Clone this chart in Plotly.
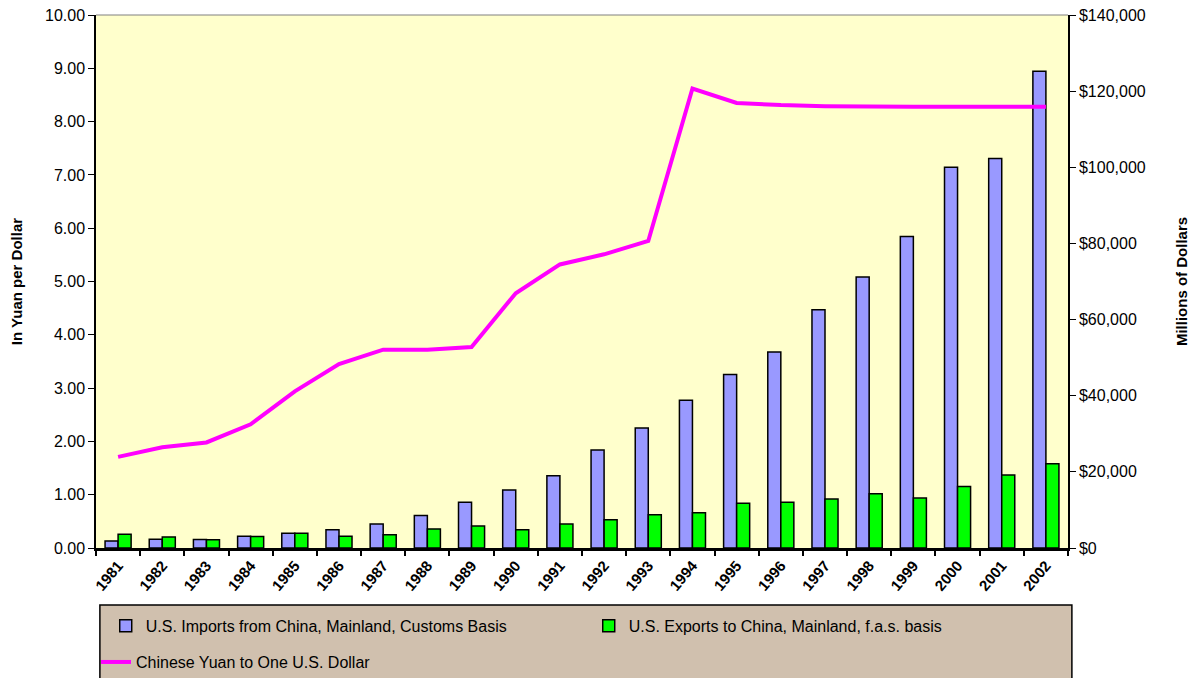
import plotly.graph_objects as go

# Data
years = [str(y) for y in range(1981, 2003)]
imports = [1865, 2284, 2244, 3065, 3862, 4771, 6294, 8511, 11990, 15237, 18969,
           25728, 31540, 38787, 45543, 51513, 62558, 71169, 81788, 100018, 102278, 125193]
exports = [3603, 2912, 2173, 3004, 3856, 3106, 3497, 5021, 5755, 4806, 6278,
           7418, 8763, 9282, 11754, 11993, 12862, 14241, 13111, 16185, 19182, 22128]
yuan = [1.71, 1.89, 1.98, 2.32, 2.94, 3.45, 3.72, 3.72, 3.77, 4.78, 5.32,
        5.51, 5.76, 8.62, 8.35, 8.31, 8.29, 8.28, 8.28, 8.28, 8.28, 8.28]

FONT = "Liberation Sans, Arial, sans-serif"

fig = go.Figure()

fig.add_trace(go.Bar(x=years, y=imports, name="U.S. Imports from China, Mainland, Customs Basis",
                     marker=dict(color="#9999FF", line=dict(color="black", width=1.5)),
                     yaxis="y", legend="legend"))
fig.add_trace(go.Bar(x=years, y=exports, name="U.S. Exports to China, Mainland, f.a.s. basis",
                     marker=dict(color="#00FF00", line=dict(color="black", width=1.5)),
                     yaxis="y", legend="legend"))
fig.add_trace(go.Scatter(x=years, y=yuan, name="Chinese Yuan to One U.S. Dollar",
                         mode="lines", line=dict(color="#FF00FF", width=4),
                         yaxis="y2", legend="legend2"))

fig.update_layout(
    width=1199, height=678,
    margin=dict(l=88, r=139, t=7, b=138, autoexpand=False),
    paper_bgcolor="white",
    plot_bgcolor="#FFFFCC",
    font=dict(family=FONT, color="black"),
    barmode="group",
    bargap=0.41,
    bargroupgap=0.0,
    xaxis=dict(
        type="category",
        showline=True, linecolor="black", linewidth=3,
        ticks="outside", tickson="boundaries", ticklen=5, tickcolor="black", tickwidth=2,
        tickangle=-50,
        tickfont=dict(size=15, family=FONT, weight="bold"),
        ticklabeloverflow="allow",
        showgrid=False,
    ),
    # bars (millions of dollars) on the right
    yaxis=dict(
        side="right",
        range=[0, 140000], dtick=20000,
        tickprefix="$", tickformat=",",
        showline=True, linecolor="black", linewidth=1.5,
        ticks="outside", ticklen=6, tickcolor="black",
        tickfont=dict(size=16),
        ticklabeloverflow="allow",
        showgrid=False, zeroline=False,
        title=dict(text="<b>Millions of Dollars</b>", font=dict(size=15), standoff=32),
    ),
    # yuan line on the left
    yaxis2=dict(
        side="left", overlaying="y",
        range=[0, 10], dtick=1, tickformat=".2f",
        showline=True, linecolor="black", linewidth=1.5,
        ticks="outside", ticklen=6, tickcolor="black",
        tickfont=dict(size=16),
        ticklabeloverflow="allow",
        showgrid=False, zeroline=False,
        title=dict(text="<b>In Yuan per Dollar</b>", font=dict(size=15), standoff=20),
    ),
    legend=dict(
        orientation="h", x=0.01, y=-0.146, xanchor="left", yanchor="middle",
        bgcolor="rgba(0,0,0,0)", font=dict(size=16),
        entrywidth=438, entrywidthmode="pixels", traceorder="normal",
    ),
    legend2=dict(
        orientation="h", x=0.0, y=-0.214, xanchor="left", yanchor="middle",
        bgcolor="rgba(0,0,0,0)", font=dict(size=16),
    ),
    shapes=[
        dict(type="rect", xref="paper", yref="paper", x0=0.004, x1=1.004, y0=-0.107, y1=-0.27,
             fillcolor="#D0C0AE", line=dict(color="black", width=1.5), layer="below"),
        dict(type="line", xref="paper", yref="paper", x0=0, x1=1, y0=1, y1=1,
             line=dict(color="#808080", width=1)),
    ],
)

fig.write_html("out.html")
